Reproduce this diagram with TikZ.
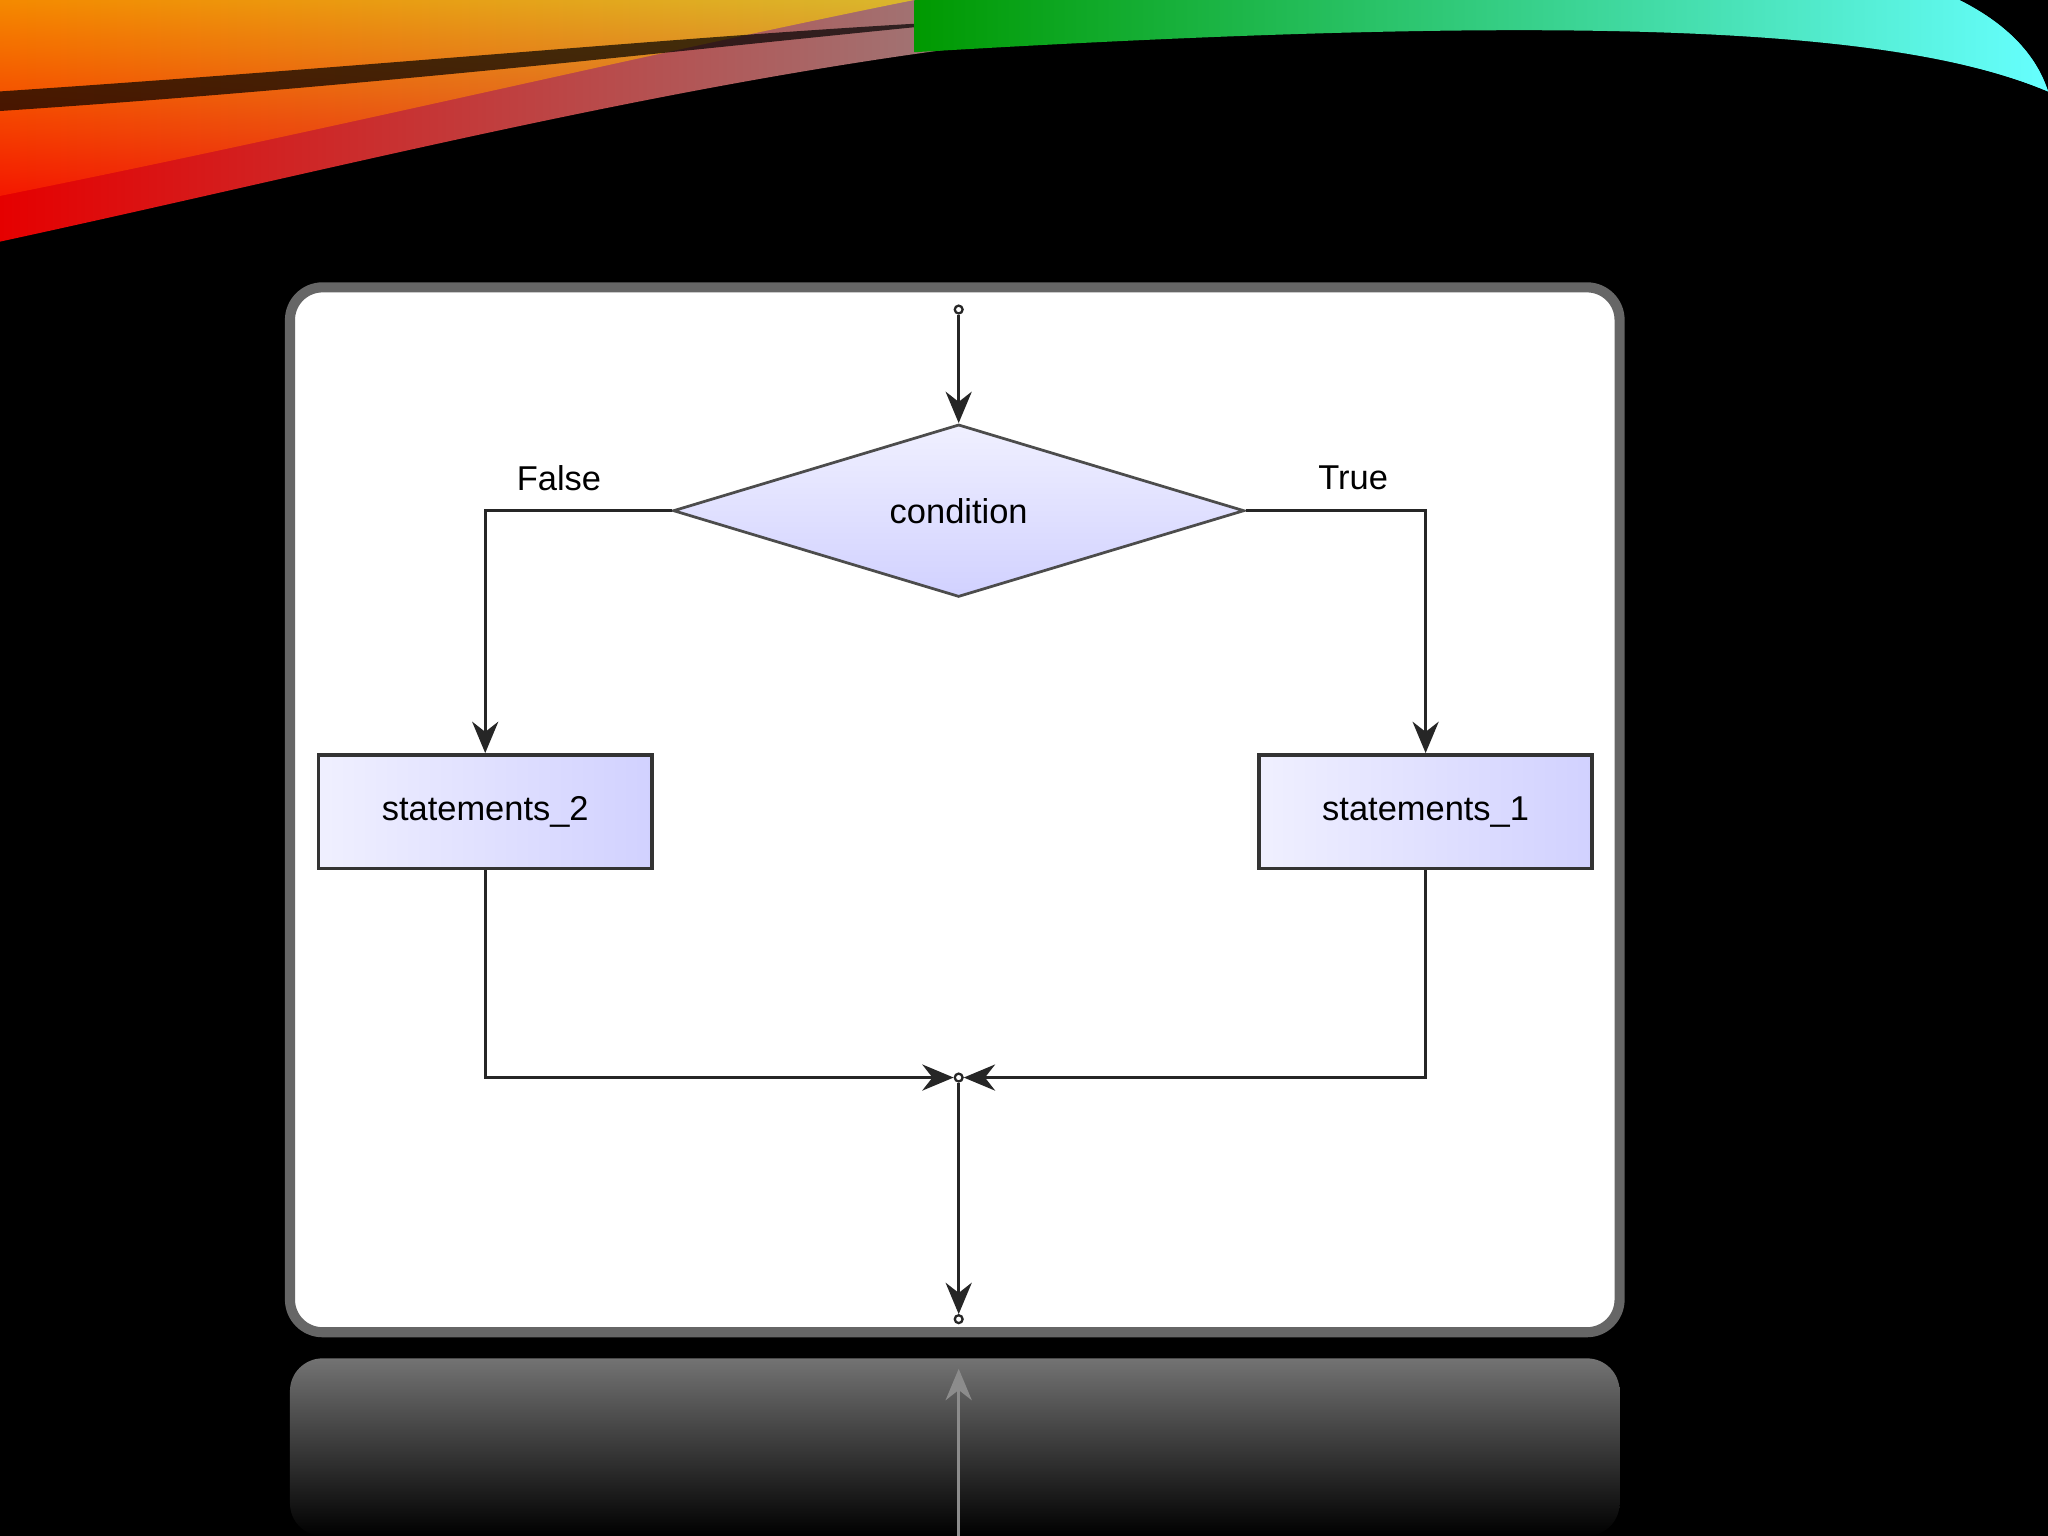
\documentclass[tikz,border=0pt]{standalone}
\usepackage{fontspec}
\setmainfont{Liberation Sans}
\usetikzlibrary{shapes.geometric,arrows.meta}
\begin{document}
\begin{tikzpicture}[x=0.01cm,y=-0.01cm,
  ln/.style={line width=0.6pt,draw=black!85},
  arr/.style={ln,-{Stealth[length=0.24cm,width=0.2cm]}},
  dot/.style={circle,draw=black!85,fill=white,line width=0.5pt,inner sep=0pt,minimum size=0.06cm},
  box/.style={rectangle,draw=black!80,line width=0.8pt,left color=blue!6,right color=blue!18,minimum width=2.55cm,minimum height=0.87cm,font=\fontsize{7.5}{9}\selectfont},
  lbl/.style={font=\fontsize{7.5}{9}\selectfont}]
\useasboundingbox (0,0) rectangle (1568,1176);
\fill[black] (0,0) rectangle (1568,1176);
% swoosh
\shade[left color=red!90!black,middle color=orange!90!yellow,right color=cyan!70!white]
  (0,0) -- (1500,0) .. controls (1540,20) and (1560,45) .. (1568,70)
  .. controls (1450,20) and (1200,10) .. (900,20)
  .. controls (600,40) and (300,120) .. (0,185) -- cycle;
\shade[top color=yellow!80!orange,bottom color=red!70!orange,opacity=0.6]
  (0,0) -- (700,0) .. controls (500,40) and (250,100) .. (0,150) -- cycle;
\fill[black,opacity=0.7] (0,70) .. controls (300,50) and (550,25) .. (760,15)
  .. controls (550,35) and (300,65) .. (0,85) -- cycle;
\shade[left color=green!60!black,right color=cyan!60!white]
  (700,0) -- (1500,0) .. controls (1540,20) and (1560,45) .. (1568,70)
  .. controls (1450,20) and (1200,10) .. (700,40) -- cycle;
% reflection
\shade[top color=black!55,bottom color=black] (222,1040) [rounded corners=0.25cm] -- (222,1176) -- (1240,1176) -- (1240,1040) -- cycle;
\draw[black!45,line width=0.6pt,{Stealth[length=0.24cm,width=0.2cm]}-] (734,1048) -- (734,1176);
% panel
\draw[fill=white,draw=black!60,line width=2.2pt,rounded corners=0.25cm] (222,220) rectangle (1240,1020);
% nodes
\node[dot] (top) at (734,237) {};
\node[diamond,draw=black!70,line width=0.6pt,top color=blue!6,bottom color=blue!18,minimum width=4.37cm,minimum height=1.32cm,inner sep=0pt,aspect=3.3,font=\fontsize{7.5}{9}\selectfont] (cond) at (734,391) {condition};
\node[box] (s2) at (371.5,621.5) {statements\_2};
\node[box] (s1) at (1091.5,621.5) {statements\_1};
\node[dot] (j) at (734,825) {};
\node[dot] (bot) at (734,1010) {};
\node[lbl] (f) at (428,366) {False};
\node[lbl] (t) at (1036,366) {True};
% connectors
\draw[arr] (top) -- (cond.north);
\draw[arr] (cond.west) -| (s2.north);
\draw[arr] (cond.east) -| (s1.north);
\draw[arr] (s2.south) |- (j.west);
\draw[arr] (s1.south) |- (j.east);
\draw[arr] (j) -- (bot);
\end{tikzpicture}
\end{document}
